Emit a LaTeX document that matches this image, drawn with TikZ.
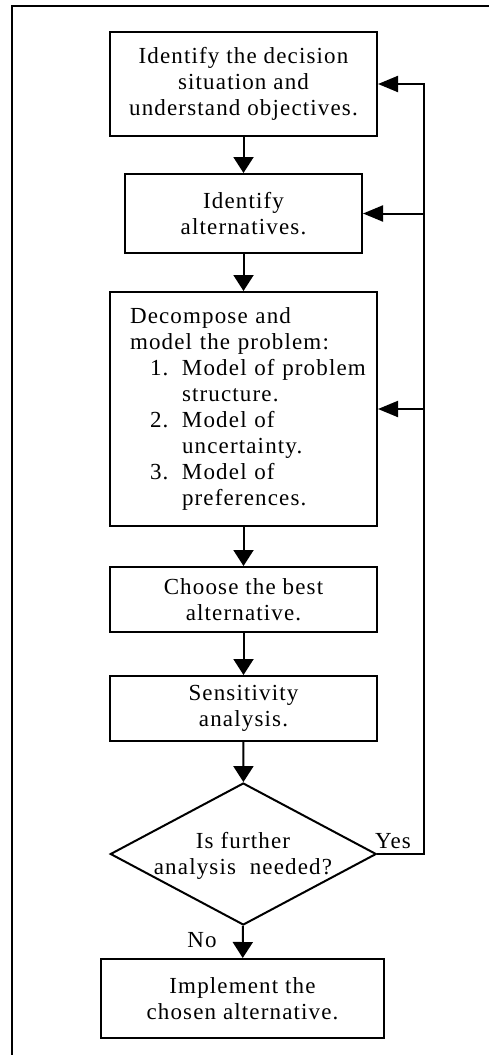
\documentclass[tikz,border=0pt]{standalone}
\usepackage{fontspec}
\setmainfont{Liberation Serif}[LetterSpace=5]
\usetikzlibrary{arrows.meta,shapes.geometric}
\begin{document}
\begin{tikzpicture}[x=1pt,y=-1pt,
  txt/.style={font=\fontsize{23}{26}\selectfont},
  box/.style={draw, line width=2pt, inner sep=0pt, align=center, txt},
  decision/.style={draw, diamond, line width=2pt, inner sep=0pt},
  down/.style={-{Triangle[width=20pt,length=16pt]}, line width=2pt},
  side/.style={-{Triangle[width=16pt,length=20pt]}, line width=2pt},
  plain/.style={line width=2pt},
]
\useasboundingbox (0,0) rectangle (489,1055);
\coordinate (fa) at (12,1060);
\coordinate (fb) at (12,6);
\coordinate (fc) at (494,6);
\draw[plain] (fa) -- (fb) -- (fc);

\node[box, minimum width=267pt, minimum height=104pt] (b1) at (243.5,84)
  {Identify the decision\\situation and\\understand objectives.};
\node[box, minimum width=237pt, minimum height=79pt] (b2) at (243.5,213.5)
  {Identify\\alternatives.};
\node[box, minimum width=267pt, minimum height=234pt, align=left, text width=267pt] (b3) at (243.5,409)
  {\hspace*{20pt}Decompose and\\
   \hspace*{20pt}model the problem:\\
   \hspace*{40pt}\makebox[32pt][l]{1.}\mbox{Model of problem}\\
   \hspace*{72pt}structure.\\
   \hspace*{40pt}\makebox[32pt][l]{2.}Model of\\
   \hspace*{72pt}uncertainty.\\
   \hspace*{40pt}\makebox[32pt][l]{3.}Model of\\
   \hspace*{72pt}preferences.};
\node[box, minimum width=267pt, minimum height=65pt] (b4) at (243.5,599.5)
  {Choose the best\\alternative.};
\node[box, minimum width=267pt, minimum height=65pt] (b5) at (243.5,708.5)
  {Sensitivity\\analysis.};
\node[decision, minimum width=266pt, minimum height=142pt] (d) at (243.3,854) {};
\node[txt, align=center, inner sep=0pt] (dt) at (243,856) {Is further\\analysis~~needed?};
\node[box, minimum width=283pt, minimum height=79pt] (b6) at (242.5,998.5)
  {Implement the\\chosen alternative.};

\node[txt, inner sep=0pt] (yes) at (393,841) {Yes};
\node[txt, inner sep=0pt] (no) at (202,940) {No};

\draw[down] (b1) -- (b2);
\draw[down] (b2) -- (b3);
\draw[down] (b3) -- (b4);
\draw[down] (b4) -- (b5);
\draw[down] (b5) -- (d);
\draw[down] (d) -- (b6);

\coordinate (r0) at (424,854);
\draw[side] (d.east) -- (r0) |- (b1.east);
\draw[side] (r0 |- b2.east) -- (b2.east);
\draw[side] (r0 |- b3.east) -- (b3.east);
\end{tikzpicture}
\end{document}
